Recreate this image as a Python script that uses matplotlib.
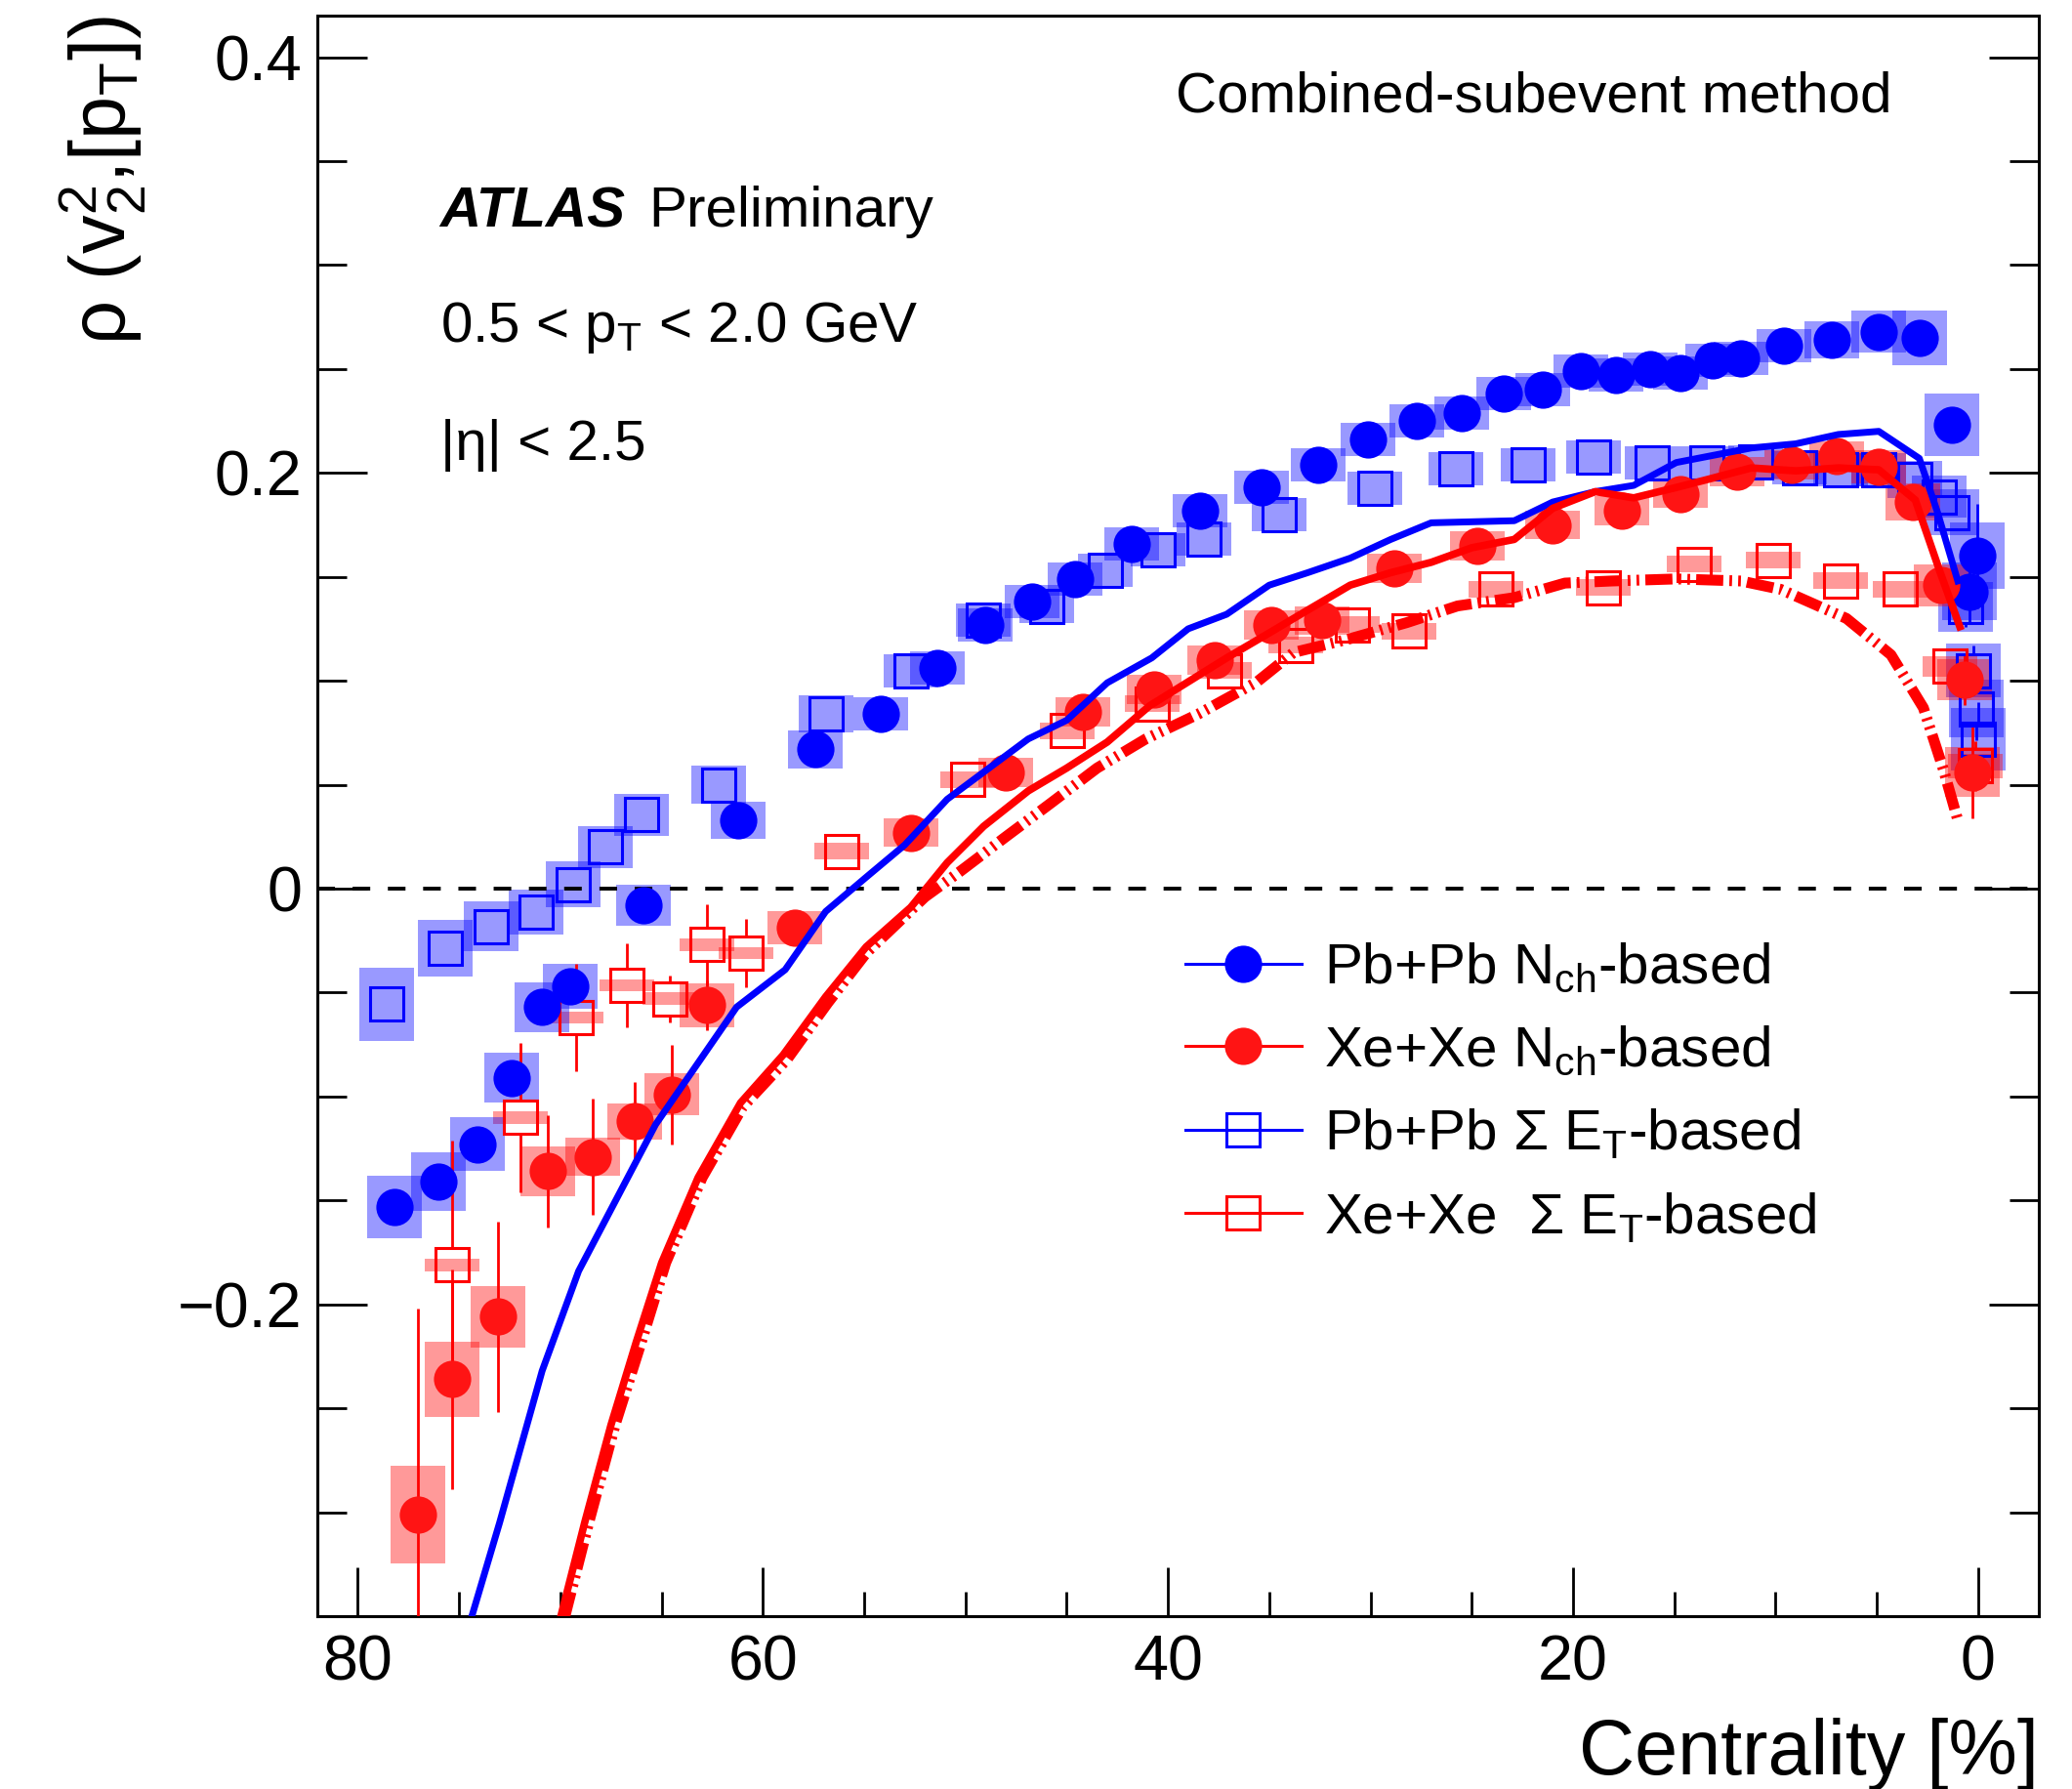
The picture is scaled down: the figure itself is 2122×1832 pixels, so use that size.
import numpy as np
import matplotlib
matplotlib.use("Agg")
import matplotlib.pyplot as plt
from matplotlib.lines import Line2D
from matplotlib.patches import Rectangle
from matplotlib.ticker import MultipleLocator, FuncFormatter

plt.rcParams['font.family'] = ['Liberation Sans', 'DejaVu Sans']
plt.rcParams['mathtext.fontset'] = 'custom'
plt.rcParams['mathtext.rm'] = 'Liberation Sans'
plt.rcParams['mathtext.it'] = 'Liberation Sans:italic'
plt.rcParams['mathtext.bf'] = 'Liberation Sans:bold'
plt.rcParams['lines.scale_dashes'] = False

# ---------------- data ----------------
# Pb+Pb Nch-based (filled blue circles)
pb_nch_c = [78.2, 76.0, 74.1, 72.4, 70.9, 69.5, 65.9, 61.2, 57.4, 54.2, 51.4, 49.0, 46.7, 44.6, 41.8, 38.4,
            35.4, 32.6, 30.1, 27.7, 25.5, 23.4, 21.5, 19.6, 17.9, 16.2, 14.7, 13.1, 11.7, 9.6, 7.2, 4.9,
            2.9, 1.3, 0.4, 0.05]
pb_nch_v = [-0.153, -0.141, -0.123, -0.091, -0.057, -0.047, -0.008, 0.033, 0.067, 0.084, 0.106, 0.127,
            0.138, 0.149, 0.166, 0.182, 0.193, 0.204, 0.216, 0.225, 0.229, 0.238, 0.240, 0.249, 0.247,
            0.250, 0.248, 0.254, 0.255, 0.261, 0.264, 0.268, 0.265, 0.223, 0.143, 0.160]
pb_nch_stat = [0.008, 0.005, 0.004, 0.004, 0.003, 0.003, 0.003, 0.003, 0.002, 0.002, 0.002, 0.002,
               0.002, 0.002, 0.002, 0.002, 0.002, 0.002, 0.002, 0.002, 0.002, 0.002, 0.002, 0.002,
               0.002, 0.002, 0.002, 0.002, 0.002, 0.003, 0.003, 0.004, 0.005, 0.008, 0.015, 0.025]
pb_nch_sys = [0.015, 0.014, 0.013, 0.012, 0.012, 0.011, 0.010, 0.009, 0.009, 0.008, 0.008, 0.008,
              0.008, 0.008, 0.008, 0.008, 0.008, 0.008, 0.008, 0.008, 0.008, 0.008, 0.008, 0.008,
              0.008, 0.008, 0.008, 0.008, 0.008, 0.008, 0.009, 0.010, 0.013, 0.015, 0.014, 0.016]

# Pb+Pb Sigma ET-based (open blue squares)
pb_et_c = [78.6, 75.7, 73.4, 71.2, 69.35, 67.8, 66.0, 62.2, 56.9, 52.7, 49.1, 46.0, 43.1, 40.5, 38.2,
           34.5, 29.8, 25.8, 22.2, 19.0, 16.1, 13.4, 11.0, 8.8, 6.8, 4.9, 3.1, 1.9, 1.3, 0.6, 0.25,
           0.1, 0.0]
pb_et_v = [-0.0556, -0.0287, -0.0183, -0.0113, 0.002, 0.020, 0.0356, 0.050, 0.084, 0.1046, 0.129,
           0.136, 0.153, 0.163, 0.168, 0.180, 0.1926, 0.202, 0.204, 0.2075, 0.205, 0.205, 0.2055,
           0.2024, 0.2015, 0.2015, 0.197, 0.1885, 0.181, 0.1357, 0.105, 0.0866, 0.0717]
pb_et_stat = [0.004, 0.003, 0.003, 0.003, 0.003, 0.003, 0.003, 0.002, 0.002, 0.002, 0.002, 0.002,
              0.002, 0.002, 0.002, 0.002, 0.002, 0.002, 0.002, 0.002, 0.002, 0.002, 0.002, 0.002,
              0.002, 0.003, 0.004, 0.006, 0.008, 0.010, 0.012, 0.015, 0.018]
pb_et_sys = [0.0176, 0.0137, 0.012, 0.011, 0.011, 0.010, 0.010, 0.009, 0.009, 0.008, 0.008, 0.008,
             0.008, 0.008, 0.008, 0.008, 0.008, 0.008, 0.008, 0.008, 0.008, 0.008, 0.008, 0.008,
             0.008, 0.008, 0.009, 0.010, 0.011, 0.012, 0.013, 0.014, 0.015]

# Xe+Xe Nch-based (filled red circles)
xe_nch_c = [77.05, 75.33, 73.08, 70.62, 68.42, 66.33, 64.52, 62.75, 58.4, 52.7, 48.0, 44.2, 40.7,
            37.7, 34.9, 32.4, 28.8, 24.7, 21.0, 17.6, 14.7, 11.9, 9.2, 7.0, 4.9, 3.2, 1.8, 0.67, 0.27]
xe_nch_v = [-0.301, -0.236, -0.206, -0.136, -0.129, -0.112, -0.099, -0.056, -0.019, 0.027, 0.056,
            0.085, 0.096, 0.110, 0.127, 0.129, 0.154, 0.165, 0.175, 0.182, 0.190, 0.2005, 0.204,
            0.208, 0.203, 0.186, 0.146, 0.1005, 0.056]
xe_nch_stat = [0.099, 0.053, 0.046, 0.027, 0.028, 0.019, 0.024, 0.012, 0.006, 0.004, 0.003, 0.003,
               0.003, 0.003, 0.003, 0.003, 0.003, 0.003, 0.003, 0.003, 0.003, 0.003, 0.003, 0.003,
               0.004, 0.005, 0.008, 0.012, 0.022]
xe_nch_sys = [0.0235, 0.018, 0.015, 0.012, 0.009, 0.0086, 0.010, 0.0106, 0.008, 0.007, 0.007, 0.007,
              0.007, 0.007, 0.007, 0.007, 0.007, 0.007, 0.007, 0.007, 0.007, 0.007, 0.007, 0.007,
              0.008, 0.009, 0.010, 0.010, 0.012]

# Xe+Xe Sigma ET-based (open red squares)
xe_et_c = [75.33, 71.96, 69.22, 66.73, 64.6, 62.77, 60.83, 56.1, 49.9, 44.95, 40.78, 37.2, 33.7,
           30.9, 28.1, 23.8, 18.5, 14.0, 10.1, 6.8, 3.85, 1.4, 0.12]
xe_et_v = [-0.181, -0.110, -0.062, -0.0465, -0.053, -0.027, -0.031, 0.018, 0.0525, 0.076, 0.089,
           0.105, 0.117, 0.127, 0.124, 0.144, 0.1448, 0.156, 0.158, 0.148, 0.144, 0.107, 0.059]
xe_et_stat = [0.060, 0.036, 0.026, 0.020, 0.0114, 0.0196, 0.0164, 0.004, 0.003, 0.003, 0.003, 0.003,
              0.003, 0.003, 0.003, 0.003, 0.004, 0.004, 0.004, 0.004, 0.005, 0.008, 0.012]
xe_et_sys = [0.003, 0.003, 0.003, 0.003, 0.003, 0.003, 0.003, 0.004, 0.004, 0.004, 0.004, 0.004,
             0.004, 0.004, 0.004, 0.004, 0.004, 0.004, 0.004, 0.004, 0.004, 0.005, 0.006]

# model curves
blue_curve_c = [74.4, 73.0, 70.9, 69.1, 65.3, 61.3, 58.9, 56.9, 54.9, 53.0, 50.9, 46.9, 45.0, 43.0,
                40.8, 39.0, 37.1, 35.0, 33.1, 31.0, 29.0, 27.0, 22.9, 21.0, 18.9, 17.0, 14.9, 11.2,
                9.0, 6.9, 4.9, 2.9, 2.0, 1.0]
blue_curve_v = [-0.351, -0.305, -0.232, -0.184, -0.1135, -0.057, -0.039, -0.011, 0.0055, 0.021,
                0.043, 0.072, 0.081, 0.099, 0.111, 0.125, 0.132, 0.146, 0.152, 0.159, 0.168, 0.176,
                0.177, 0.186, 0.191, 0.194, 0.205, 0.212, 0.214, 0.2185, 0.220, 0.207, 0.181, 0.148]

red_curve_c = [70.0, 68.8, 67.5, 66.25, 65.0, 63.2, 61.1, 59.0, 56.9, 54.9, 52.7, 50.9, 49.1, 46.9,
               45.0, 43.0, 40.9, 37.1, 35.0, 33.1, 31.0, 29.0, 27.0, 25.0, 22.9, 21.0, 18.9, 17.0,
               14.9, 13.3, 11.2, 9.0, 6.9, 4.9, 3.1, 1.9, 0.9]
red_curve_v = [-0.351, -0.305, -0.258, -0.218, -0.180, -0.139, -0.103, -0.080, -0.052, -0.028,
               -0.009, 0.0125, 0.030, 0.047, 0.058, 0.0705, 0.088, 0.111, 0.123, 0.134, 0.146,
               0.152, 0.157, 0.164, 0.168, 0.183, 0.191, 0.188, 0.193, 0.197, 0.2024, 0.201,
               0.2024, 0.2015, 0.187, 0.153, 0.126]

red_dd_c = [69.8, 68.6, 67.3, 66.0, 64.8, 63.0, 61.0, 58.8, 56.8, 54.9, 52.0, 50.3, 48.0, 45.8, 43.5,
            41.1, 38.5, 35.6, 33.8, 31.1, 28.2, 25.7, 22.9, 20.4, 18.1, 14.9, 11.7, 9.75, 6.5, 4.3,
            2.7, 1.7, 1.0]
red_dd_v = [-0.351, -0.305, -0.258, -0.218, -0.180, -0.139, -0.105, -0.082, -0.055, -0.031, -0.004,
            0.008, 0.025, 0.041, 0.058, 0.072, 0.084, 0.0995, 0.1136, 0.120, 0.128, 0.136, 0.140,
            0.147, 0.148, 0.149, 0.148, 0.144, 0.130, 0.1125, 0.087, 0.057, 0.033]

legend_labels = [r'Pb+Pb N$_{\mathrm{ch}}$-based', r'Xe+Xe N$_{\mathrm{ch}}$-based',
                 r'Pb+Pb $\Sigma$ E$_{\mathrm{T}}$-based', r'Xe+Xe  $\Sigma$ E$_{\mathrm{T}}$-based']

# ---------------- style ----------------
BLUE = '#0000ff'
RED = '#ff0000'
RED_MK = '#ff1414'
BOX_HW = 1.35          # half width of systematic boxes (centrality units)
MS_CIRCLE = 27.5
MS_SQUARE = 25
TXT = 42

W, H = 2122, 1832
fig = plt.figure(figsize=(W / 100, H / 100), dpi=100)
ax_l, ax_r, ax_t, ax_b = 325, 2088, 16, 1655
ax = fig.add_axes([ax_l / W, 1 - ax_b / H, (ax_r - ax_l) / W, (ax_b - ax_t) / H])
ax.set_xlim(82, -3)
ax.set_ylim(-0.35, 0.42)

# half height of square marker in data units (for ROOT-like gapped error bars)
ax_h_px = (ax_b - ax_t)
sq_half = (MS_SQUARE * 100 / 72 / 2) / ax_h_px * (0.42 + 0.35)


def sys_boxes(c, v, s, color, z):
    for ci, vi, si in zip(c, v, s):
        r = Rectangle((ci - BOX_HW, vi - si), 2 * BOX_HW, 2 * si, facecolor=color, alpha=0.4,
                      linewidth=0, zorder=z)
        ax.add_patch(r)


def stat_bars(c, v, e, color, gap, z):
    c = np.asarray(c); v = np.asarray(v); e = np.asarray(e)
    m = e > gap
    ax.vlines(c[m], v[m] + gap, v[m] + e[m], color=color, lw=2.0, zorder=z)
    ax.vlines(c[m], v[m] - e[m], v[m] - gap, color=color, lw=2.0, zorder=z)


# systematic boxes
sys_boxes(pb_et_c, pb_et_v, pb_et_sys, BLUE, 1)
sys_boxes(xe_et_c, xe_et_v, xe_et_sys, RED, 1)
sys_boxes(pb_nch_c, pb_nch_v, pb_nch_sys, BLUE, 1)
sys_boxes(xe_nch_c, xe_nch_v, xe_nch_sys, RED, 1)

# zero line
ax.axhline(0, color='black', lw=2.8, ls=(0, (13, 13)), zorder=2)

# statistical errors
stat_bars(pb_et_c, pb_et_v, pb_et_stat, BLUE, sq_half, 3)
stat_bars(xe_et_c, xe_et_v, xe_et_stat, RED, sq_half, 3)
stat_bars(pb_nch_c, pb_nch_v, pb_nch_stat, BLUE, 0, 3)
stat_bars(xe_nch_c, xe_nch_v, xe_nch_stat, RED, 0, 3)

# markers
ax.plot(pb_et_c, pb_et_v, ls='none', marker='s', ms=MS_SQUARE, mfc='none', mec=BLUE, mew=2.2, zorder=4)
ax.plot(xe_et_c, xe_et_v, ls='none', marker='s', ms=MS_SQUARE, mfc='none', mec=RED, mew=2.2, zorder=4)
ax.plot(pb_nch_c, pb_nch_v, ls='none', marker='o', ms=MS_CIRCLE, mfc=BLUE, mec=BLUE, mew=0, zorder=5)
ax.plot(xe_nch_c, xe_nch_v, ls='none', marker='o', ms=MS_CIRCLE, mfc=RED_MK, mec=RED_MK, mew=0, zorder=5)

# model curves
ax.plot(blue_curve_c, blue_curve_v, color=BLUE, lw=5.0, zorder=6)
ax.plot(red_curve_c, red_curve_v, color=RED, lw=5.5, zorder=6)
ax.plot(red_dd_c, red_dd_v, color=RED, lw=8.0, zorder=6,
        ls=(0, (20, 4.5, 2.0, 4.5, 2.0, 4.5)), dash_capstyle='butt')

# axes styling
for sp in ax.spines.values():
    sp.set_linewidth(2.2)
ax.xaxis.set_major_locator(MultipleLocator(20))
ax.xaxis.set_minor_locator(MultipleLocator(5))
ax.yaxis.set_major_locator(MultipleLocator(0.2))
ax.yaxis.set_minor_locator(MultipleLocator(0.05))
ax.tick_params(axis='both', which='both', direction='in', width=2.0, labelsize=46.5)
ax.tick_params(axis='y', which='both', left=True, right=True)
ax.tick_params(axis='x', which='both', bottom=True, top=False)
ax.tick_params(axis='y', which='major', length=37, pad=11)
ax.tick_params(axis='y', which='minor', length=21.5)
ax.tick_params(axis='x', which='major', length=36, pad=13)
ax.tick_params(axis='x', which='minor', length=18)
fmt = FuncFormatter(lambda val, pos: ('%g' % round(val, 4)).replace('-', '\u2212'))
ax.yaxis.set_major_formatter(fmt)
ax.xaxis.set_major_formatter(FuncFormatter(lambda val, pos: '%g' % round(val, 4)))

# axis titles
fig.text(2088 / W, (H - 1817) / H, 'Centrality [%]', fontsize=57, ha='right', va='baseline')
fig.text(105 / W, 1 - 16 / H, r'ρ (v$_{2}^{2}$,[p$_{\mathrm{T}}$])', fontsize=57,
         rotation=90, ha='center', va='top')

# annotations
ax.text(0.4986, 0.9402, 'Combined-subevent method', transform=ax.transAxes, fontsize=TXT,
        ha='left', va='baseline')
ax.text(0.0712, 0.8682, 'ATLAS', transform=ax.transAxes, fontsize=TXT, fontweight='bold',
        fontstyle='italic', ha='left', va='baseline')
ax.text(0.1925, 0.8682, 'Preliminary', transform=ax.transAxes, fontsize=TXT, ha='left', va='baseline')
ax.text(0.0712, 0.796, r'0.5 < p$_{\mathrm{T}}$ < 2.0 GeV', transform=ax.transAxes, fontsize=TXT,
        ha='left', va='baseline')
ax.text(0.0712, 0.7224, '|η| < 2.5', transform=ax.transAxes, fontsize=TXT, ha='left', va='baseline')

# legend
handles = [
    Line2D([], [], color=BLUE, lw=2.2, marker='o', ms=MS_CIRCLE, mfc=BLUE, mec=BLUE, mew=0),
    Line2D([], [], color=RED, lw=2.2, marker='o', ms=MS_CIRCLE, mfc=RED_MK, mec=RED_MK, mew=0),
    Line2D([], [], color=BLUE, lw=2.2, marker='s', ms=MS_SQUARE, mfc='none', mec=BLUE, mew=2.2),
    Line2D([], [], color=RED, lw=2.2, marker='s', ms=MS_SQUARE, mfc='none', mec=RED, mew=2.2),
]
ax.legend(handles, legend_labels, loc='upper left', bbox_to_anchor=(0.504, 0.421), frameon=False,
          fontsize=TXT, handlelength=2.05, handletextpad=0.4, labelspacing=0.52, borderpad=0,
          borderaxespad=0, numpoints=1)

fig.savefig('out.png', dpi=100)
